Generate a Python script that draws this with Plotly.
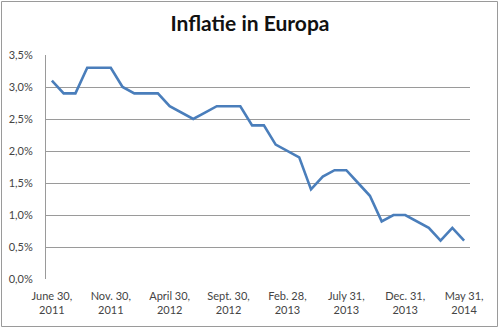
import plotly.graph_objects as go

months = ["Jun 2011", "Jul 2011", "Aug 2011", "Sep 2011", "Oct 2011", "Nov 2011",
          "Dec 2011", "Jan 2012", "Feb 2012", "Mar 2012", "Apr 2012", "May 2012",
          "Jun 2012", "Jul 2012", "Aug 2012", "Sep 2012", "Oct 2012", "Nov 2012",
          "Dec 2012", "Jan 2013", "Feb 2013", "Mar 2013", "Apr 2013", "May 2013",
          "Jun 2013", "Jul 2013", "Aug 2013", "Sep 2013", "Oct 2013", "Nov 2013",
          "Dec 2013", "Jan 2014", "Feb 2014", "Mar 2014", "Apr 2014", "May 2014"]
inflation = [3.1, 2.9, 2.9, 3.3, 3.3, 3.3, 3.0, 2.9, 2.9, 2.9, 2.7, 2.6,
             2.5, 2.6, 2.7, 2.7, 2.7, 2.4, 2.4, 2.1, 2.0, 1.9, 1.4, 1.6,
             1.7, 1.7, 1.5, 1.3, 0.9, 1.0, 1.0, 0.9, 0.8, 0.6, 0.8, 0.6]
tick_months = ["Jun 2011", "Nov 2011", "Apr 2012", "Sep 2012",
               "Feb 2013", "Jul 2013", "Dec 2013", "May 2014"]
tick_labels = ["June 30,<br>2011", "Nov. 30,<br>2011", "April 30,<br>2012", "Sept. 30,<br>2012",
               "Feb. 28,<br>2013", "July 31,<br>2013", "Dec. 31,<br>2013", "May 31,<br>2014"]
y_ticks = [0.0, 0.5, 1.0, 1.5, 2.0, 2.5, 3.0, 3.5]
y_labels = ["0,0%", "0,5%", "1,0%", "1,5%", "2,0%", "2,5%", "3,0%", "3,5%"]

W, H = 500, 329
ml, mr, mt, mb = 46, 30, 55, 50
pw, ph = W - ml - mr, H - mt - mb

fig = go.Figure(go.Scatter(
    x=months, y=inflation, mode="lines",
    line=dict(color="#4a7ebb", width=2.6),
    hoverinfo="skip",
))

fig.update_layout(
    width=W, height=H,
    margin=dict(l=ml, r=mr, t=mt, b=mb, pad=0, autoexpand=False),
    paper_bgcolor="white", plot_bgcolor="white",
    showlegend=False,
    font=dict(family="Lato, Calibri, sans-serif", size=11, color="#333333"),
    title=dict(text="<b>Inflatie in Europa</b>", x=0.5, xanchor="center",
               y=1 - 24 / H, yanchor="middle",
               font=dict(family="Lato, Calibri, sans-serif", size=21, color="#111111")),
    xaxis=dict(type="category", categoryorder="array", categoryarray=months,
               range=[-0.5, len(months) - 0.5], automargin=False,
               tickmode="array", tickvals=tick_months, ticktext=tick_labels,
               showgrid=False, zeroline=False,
               showline=False, ticks="", ticklabelstandoff=9,
               tickfont=dict(size=11, color="#444444")),
    yaxis=dict(range=[0, 3.5], tickmode="array", tickvals=y_ticks, ticktext=y_labels,
               automargin=False,
               showgrid=True, gridcolor="#9a9a9a", gridwidth=1,
               zeroline=False, showline=True, linecolor="#9a9a9a", linewidth=1,
               ticks="", ticklen=0, ticklabelstandoff=10,
               tickfont=dict(size=11, color="#444444")),
)

# outer chart border
fig.add_shape(type="rect", xref="paper", yref="paper",
              x0=(1.5 - ml) / pw, x1=(497.5 - ml) / pw,
              y0=-(326.5 - (H - mb)) / ph, y1=1 + (mt - 1.5) / ph,
              line=dict(color="#9a9a9a", width=1), fillcolor="rgba(0,0,0,0)",
              layer="below")

fig.write_html("out.html")
